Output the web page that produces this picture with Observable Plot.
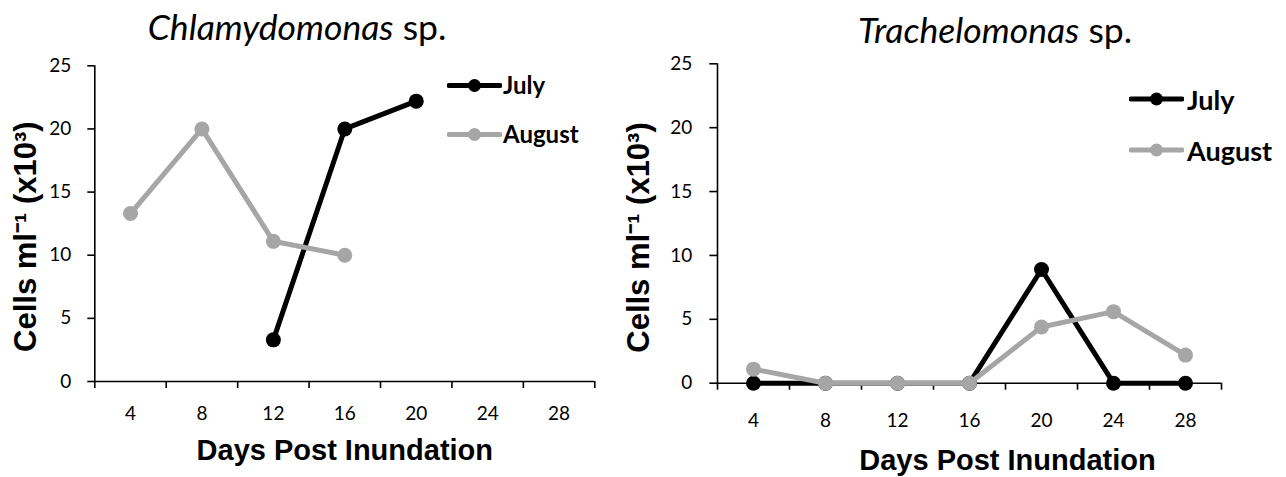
<!DOCTYPE html>
<html>
<head>
<meta charset="utf-8">
<script src="https://cdn.jsdelivr.net/npm/d3@7"></script>
<script src="https://cdn.jsdelivr.net/npm/@observablehq/plot@0.6"></script>
<style>
  body { margin: 0; background: #fff; }
  #wrap { position: relative; width: 1286px; height: 477px; overflow: hidden; background: #fff; }
  .panel { position: absolute; top: 0; }
  .title { position: absolute; font-family: Lato, sans-serif; color: #000; white-space: nowrap; transform: translate(-50%, -50%); line-height: 1; }
  .title i { font-style: italic; }
  .leg { position: absolute; display: flex; align-items: center; transform: translateY(-50%); font-family: Lato, sans-serif; font-weight: bold; color: #000; white-space: nowrap; line-height: 1; }
  .leg svg { display: block; }
</style>
</head>
<body>
<div id="wrap"></div>
<script>
// ---- data ----
const days = [4, 8, 12, 16, 20, 24, 28];
const dayTickEdges = [2, 6, 10, 14, 18, 22, 26, 30];
const yTicks = [0, 5, 10, 15, 20, 25];
const months = ["July", "August"];
const monthColors = ["#000000", "#A6A6A6"];

const chlamyJuly = [null, null, 3.3, 20, 22.2, null, null];
const chlamyAugust = [13.3, 20, 11.1, 10, null, null, null];
const trachJuly = [0, 0, 0, 0, 8.9, 0, 0];
const trachAugust = [1.1, 0, 0, 0, 4.4, 5.6, 2.2];

const xTitle = "Days Post Inundation";
const yTitle = "Cells ml\u207B\u00B9 (x10\u00B3)";

function rows(july, august) {
  const out = [];
  days.forEach((d, i) => out.push({day: d, value: july[i], month: "July"}));
  days.forEach((d, i) => out.push({day: d, value: august[i], month: "August"}));
  return out;
}

function panel(cfg) {
  const data = rows(cfg.july, cfg.august);
  const seriesMarks = [];
  months.forEach((m, k) => {
    const sub = data.filter(r => r.month === m);
    seriesMarks.push(Plot.line(sub, {x: "day", y: "value", stroke: monthColors[k], strokeWidth: 5, strokeLinejoin: "round", strokeLinecap: "round"}));
    seriesMarks.push(Plot.dot(sub.filter(r => r.value != null), {x: "day", y: "value", r: 7.5, fill: monthColors[k], stroke: "none"}));
  });
  return Plot.plot({
    width: cfg.width,
    height: 477,
    marginLeft: cfg.ml, marginRight: cfg.mr, marginTop: cfg.mt, marginBottom: cfg.mb,
    x: {type: "linear", domain: [2, 30], axis: null},
    y: {type: "linear", domain: [0, 25], axis: null},
    style: {background: "#fff", color: "#000", fontFamily: "Lato, sans-serif", fontSize: "19px"},
    marks: [
      Plot.ruleY([0], {stroke: "#000", strokeWidth: 1.6}),
      Plot.ruleX([2], {stroke: "#000", strokeWidth: 1.6}),
      Plot.axisY(yTicks, {anchor: "left", tickSize: cfg.ytick, tickPadding: cfg.ypad, fontSize: 19, strokeWidth: 1.6, label: null, tickFormat: d => String(d)}),
      Plot.axisX(dayTickEdges, {anchor: "bottom", tickSize: 7, tickFormat: () => "", strokeWidth: 1.6, label: null}),
      Plot.axisX(days, {anchor: "bottom", tickSize: 0, tickPadding: cfg.xpad, fontSize: 19, label: null, tickFormat: d => String(d)}),
      ...seriesMarks,
      Plot.text([xTitle], {frameAnchor: "bottom", textAnchor: "middle", lineAnchor: "middle", dx: cfg.xtdx, dy: cfg.xtdy, fontFamily: "'Liberation Sans', Arial, sans-serif", fontWeight: "bold", fontSize: 29, fill: "#000"}),
      Plot.text([yTitle], {frameAnchor: "left", textAnchor: "middle", lineAnchor: "middle", rotate: -90, dx: cfg.ytdx, dy: cfg.ytdy, fontFamily: "'Liberation Sans', Arial, sans-serif", fontWeight: "bold", fontSize: 31, fill: "#000"})
    ]
  });
}

const wrap = document.getElementById("wrap");

function addPanel(cfg, left) {
  const p = panel(cfg);
  p.classList.add("panel");
  p.style.left = left + "px";
  wrap.appendChild(p);
}

addPanel({july: chlamyJuly, august: chlamyAugust, width: 600, ml: 94.3, mr: 5.7, mt: 65.3, mb: 96,
  ytick: 7, ypad: 16.5, xpad: 25, xtdx: 0, xtdy: 69, ytdx: -69, ytdy: 13}, 0);
addPanel({july: trachJuly, august: trachAugust, width: 686, ml: 117, mr: 65, mt: 63.3, mb: 94.3,
  ytick: 7.7, ypad: 17.5, xpad: 30, xtdx: 38, xtdy: 78, ytdx: -78, ytdy: 14}, 600);

function addTitle(genus, cx, cy, size) {
  const d = document.createElement("div");
  d.className = "title";
  d.style.left = cx + "px";
  d.style.top = cy + "px";
  d.style.fontSize = size + "px";
  const i = document.createElement("i");
  i.textContent = genus;
  d.appendChild(i);
  d.appendChild(document.createTextNode(" sp."));
  wrap.appendChild(d);
}
addTitle("Chlamydomonas", 297, 27, 35.5);
addTitle("Trachelomonas", 995, 30, 35.5);

function addLegendItem(label, color, x, y, w, r, fontSize, gap) {
  const d = document.createElement("div");
  d.className = "leg";
  d.style.left = x + "px";
  d.style.top = y + "px";
  d.style.fontSize = fontSize + "px";
  const ns = "http://www.w3.org/2000/svg";
  const s = document.createElementNS(ns, "svg");
  s.setAttribute("width", w);
  s.setAttribute("height", 2 * r + 2);
  const ln = document.createElementNS(ns, "line");
  ln.setAttribute("x1", 2); ln.setAttribute("x2", w - 2);
  ln.setAttribute("y1", r + 1); ln.setAttribute("y2", r + 1);
  ln.setAttribute("stroke", color); ln.setAttribute("stroke-width", 5); ln.setAttribute("stroke-linecap", "round");
  const c = document.createElementNS(ns, "circle");
  c.setAttribute("cx", w / 2); c.setAttribute("cy", r + 1); c.setAttribute("r", r); c.setAttribute("fill", color);
  s.appendChild(ln); s.appendChild(c);
  d.appendChild(s);
  const t = document.createElement("span");
  t.textContent = label;
  t.style.marginLeft = gap + "px";
  d.appendChild(t);
  wrap.appendChild(d);
}
months.forEach((m, k) => addLegendItem(m, monthColors[k], 447, 85 + k * 49, 55, 6.5, 24, 1));
months.forEach((m, k) => addLegendItem(m, monthColors[k], 1129, 99.3 + k * 50.7, 55, 6.5, 27, 3));
</script>
</body>
</html>
